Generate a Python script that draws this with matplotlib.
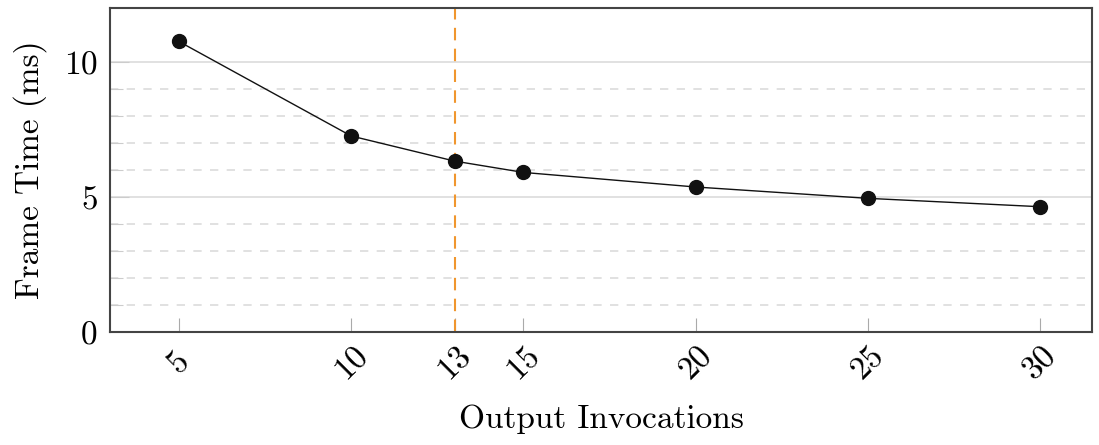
import matplotlib
matplotlib.use("Agg")
import matplotlib.pyplot as plt
from matplotlib.ticker import FixedLocator

plt.rcParams["font.family"] = ["cmr10", "DejaVu Serif"]
plt.rcParams["mathtext.fontset"] = "cm"
plt.rcParams["axes.formatter.use_mathtext"] = True

invocations = [5, 10, 13, 15, 20, 25, 30]
frame_time = [10.76, 7.26, 6.33, 5.91, 5.37, 4.95, 4.64]
threshold = 13
x_ticks = [5, 10, 13, 15, 20, 25, 30]
y_major = [0, 5, 10]
y_minor = [1, 2, 3, 4, 6, 7, 8, 9]

fig = plt.figure(figsize=(10.99, 4.45), dpi=100)
ax = fig.add_axes([110 / 1099, 1 - 332 / 445, (1092 - 110) / 1099, (332 - 8) / 445])

ax.set_xlim(3, 31.5)
ax.set_ylim(0, 12)

# horizontal grid: solid at majors, dashed at minors
ax.yaxis.set_major_locator(FixedLocator(y_major))
ax.yaxis.set_minor_locator(FixedLocator(y_minor))
ax.grid(axis="y", which="major", color="#dcdcdc", linewidth=1.2, linestyle="-")
ax.grid(axis="y", which="minor", color="#dcdcdc", linewidth=1.2, linestyle=(0, (5, 5)))
ax.set_axisbelow(True)

ax.axvline(threshold, color="#f0962e", linewidth=1.5, linestyle=(0, (6, 4)), zorder=2)

ax.plot(invocations, frame_time, color="#111111", linewidth=1.0,
        marker="o", markersize=10, markerfacecolor="#111111",
        markeredgecolor="#111111", zorder=3)

ax.set_xticks(x_ticks)
ax.set_xticklabels([str(v) for v in x_ticks], rotation=45, ha="center", va="center")
ax.tick_params(axis="x", which="major", direction="in", length=10, width=0.8,
               color="#aaaaaa", labelsize=24, pad=22)
ax.tick_params(axis="y", which="major", direction="in", length=14, width=0.8,
               color="#cccccc", labelsize=24, pad=9)
ax.tick_params(axis="y", which="minor", direction="in", length=9, width=0.8,
               color="#cccccc")
ax.tick_params(top=False, right=False)

for side in ax.spines.values():
    side.set_color("#444444")
    side.set_linewidth(1.5)

ax.set_xlabel("Output Invocations", fontsize=24, labelpad=14)
ax.set_ylabel("Frame Time (ms)", fontsize=24, labelpad=12)

fig.savefig("out.png", dpi=100)
